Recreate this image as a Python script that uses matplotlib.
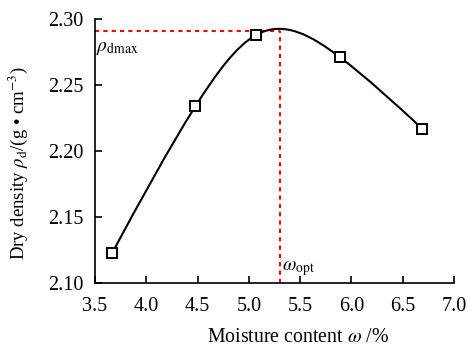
import numpy as np
import matplotlib
matplotlib.use('Agg')
import matplotlib.pyplot as plt
from matplotlib.path import Path
from matplotlib.patches import PathPatch

plt.rcParams['font.family'] = 'Liberation Serif'
plt.rcParams['mathtext.fontset'] = 'stix'

# data
moisture = [3.67, 4.48, 5.07, 5.89, 6.69]
density = [2.123, 2.234, 2.288, 2.271, 2.217]
w_opt = 5.30
rho_max = 2.291

xticks = [3.5, 4.0, 4.5, 5.0, 5.5, 6.0, 6.5, 7.0]
yticks = [2.10, 2.15, 2.20, 2.25, 2.30]


def spline_path(x, y):
    # natural cubic spline through the points, drawn as Bezier segments
    x = np.asarray(x, float)
    y = np.asarray(y, float)
    n = len(x)
    h = np.diff(x)
    A = np.zeros((n, n))
    b = np.zeros(n)
    A[0, 0] = A[-1, -1] = 1
    for i in range(1, n - 1):
        A[i, i - 1] = h[i - 1]
        A[i, i] = 2 * (h[i - 1] + h[i])
        A[i, i + 1] = h[i]
        b[i] = 6 * ((y[i + 1] - y[i]) / h[i] - (y[i] - y[i - 1]) / h[i - 1])
    M = np.linalg.solve(A, b)
    verts = [(x[0], y[0])]
    codes = [Path.MOVETO]
    for i in range(n - 1):
        s = (y[i + 1] - y[i]) / h[i]
        m0 = s - h[i] * (2 * M[i] + M[i + 1]) / 6
        m1 = s + h[i] * (M[i] + 2 * M[i + 1]) / 6
        verts += [(x[i] + h[i] / 3, y[i] + m0 * h[i] / 3),
                  (x[i + 1] - h[i] / 3, y[i + 1] - m1 * h[i] / 3),
                  (x[i + 1], y[i + 1])]
        codes += [Path.CURVE4] * 3
    return Path(verts, codes)


fig = plt.figure(figsize=(4.70, 3.48), dpi=100)
ax = fig.add_axes([0.202, 0.187, 0.764, 0.758])

ax.add_patch(PathPatch(spline_path(moisture, density), fill=False,
                       edgecolor='black', lw=1.5, zorder=3))
ax.plot(moisture, density, ls='none', marker='s', ms=6.8, mfc='white',
        mec='black', mew=1.4, zorder=4)

ax.plot([3.5, w_opt], [rho_max, rho_max], color='red', ls=(0, (2, 2)), lw=1.5, zorder=2)
ax.plot([w_opt, w_opt], [2.10, rho_max], color='red', ls=(0, (2, 2)), lw=1.5, zorder=2)

ax.text(3.51, 2.278, r'$\rho_{\rm dmax}$', fontsize=14, ha='left', va='center')
ax.text(w_opt + 0.02, 2.104, r'$\omega_{\rm opt}$', fontsize=14, ha='left', va='bottom')

ax.set_xlim(3.5, 7.0)
ax.set_ylim(2.10, 2.30)
ax.set_xticks(xticks)
ax.set_yticks(yticks)
ax.set_xticklabels(['%.1f' % v for v in xticks])
ax.set_yticklabels(['%.2f' % v for v in yticks])
ax.tick_params(direction='in', length=5, width=1.2, labelsize=14.5)
ax.tick_params(axis='x', pad=10)
ax.tick_params(axis='y', pad=8)
for s in ['top', 'right']:
    ax.spines[s].set_visible(False)
for s in ['left', 'bottom']:
    ax.spines[s].set_linewidth(1.2)

ax.set_xlabel(r'Moisture content $\omega$ /%', fontsize=14.3)
ax.set_ylabel(r'Dry density $\rho_{\rm d}$/(g • cm$^{-3}$)', fontsize=13.5)
ax.xaxis.set_label_coords(0.565, -0.17)
ax.yaxis.set_label_coords(-0.182, 0.453)

fig.savefig('out.png', dpi=100)
